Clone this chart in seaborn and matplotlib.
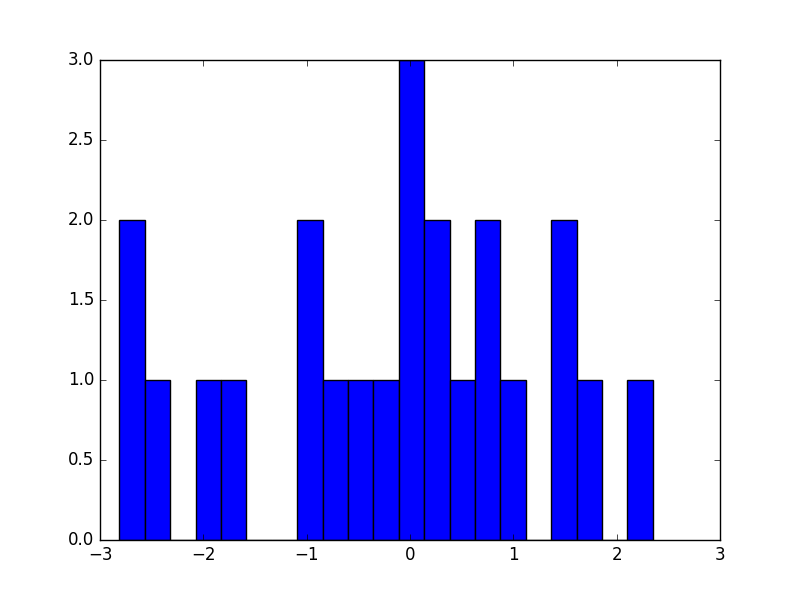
import numpy as np
import pandas as pd
import matplotlib
matplotlib.use("Agg")
import matplotlib.pyplot as plt
import seaborn as sns

# histogram: 21 equal bins
first_edge = -2.813
bin_width = 0.2458
counts = [2, 1, 0, 1, 1, 0, 0, 2, 1, 1, 1, 3, 2, 1, 2, 1, 0, 2, 1, 0, 1]

edges = first_edge + bin_width * np.arange(len(counts) + 1)
centers = (edges[:-1] + edges[1:]) / 2
df = pd.DataFrame({"value": centers, "count": counts})

plt.style.use("classic")
fig, ax = plt.subplots(figsize=(8, 6), dpi=100)
fig.patch.set_facecolor("white")

sns.histplot(data=df, x="value", weights="count", bins=edges.tolist(), ax=ax,
             color="blue", edgecolor="black", linewidth=1, alpha=1)

ax.set_xlim(-3, 3)
ax.set_ylim(0, 3)
ax.set_xlabel("")
ax.set_ylabel("")

plt.savefig("out.png", dpi=100, facecolor="white")
